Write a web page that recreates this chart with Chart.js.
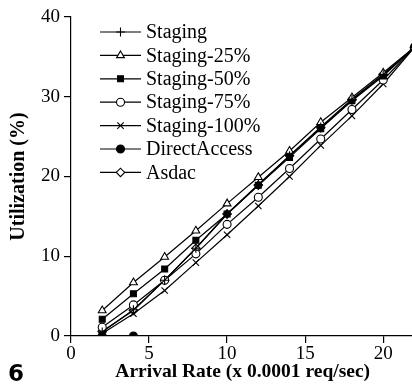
<!DOCTYPE html>
<html>
<head>
<meta charset="utf-8">
<script src="https://cdn.jsdelivr.net/npm/chart.js@4/dist/chart.umd.min.js"></script>
<style>
    html, body { margin: 0; padding: 0; background: #fff; overflow: hidden; }
    #wrap { position: relative; width: 412px; height: 389px; overflow: hidden; }
    #chart { position: absolute; left: 0; top: 0; }
    #figno { position: absolute; left: 8px; top: 360px; font: bold 23px "DejaVu Sans", sans-serif; color: #000; }
</style>
</head>
<body>
<div id="wrap">
    <canvas id="chart" width="420" height="389"></canvas>
    <div id="figno">6</div>
</div>
<script>
    // arrival rate (x 0.0001 req/sec)
    const rates = [2, 4, 6, 8, 10, 12, 14, 16, 18, 20, 22];

    // utilization (%) per scheme
    const staging    = [0.5, 3.3, 7.0, 11.0, 15.3, 19.0, 22.6, 26.2, 29.7, 32.8, 36.2];
    const staging25  = [3.2, 6.7, 9.9, 13.2, 16.6, 19.9, 23.2, 26.8, 29.9, 33.0, 36.2];
    const staging50  = [2.1, 5.3, 8.4, 12.0, 15.3, 18.9, 22.4, 26.0, 29.5, 32.6, 36.2];
    const staging75  = [1.1, 3.9, 7.0, 10.3, 14.0, 17.4, 21.0, 24.7, 28.4, 32.1, 36.2];
    const staging100 = [0.3, 2.8, 5.7, 9.2, 12.7, 16.3, 20.0, 23.9, 27.6, 31.6, 36.2];
    const directRates = [2, 4];
    const directAccess = [0, 0];
    const asdac      = [0.6, 3.2, 7.0, 11.0, 15.3, 18.9, 22.6, 26.1, 29.6, 32.8, 36.2];

    const xTicks = [0, 5, 10, 15, 20];
    const yTicks = [0, 10, 20, 30, 40];

    const serif = '"Liberation Serif", "Times New Roman", serif';

    function pts(xs, ys) {
        return ys.map((y, i) => ({ x: xs[i], y: y }));
    }

    function series(label, xs, ys, style, fill, radius) {
        return {
            label: label,
            data: pts(xs, ys),
            borderColor: '#000',
            borderWidth: 1.2,
            pointStyle: style,
            pointBackgroundColor: fill,
            pointBorderColor: '#000',
            pointBorderWidth: 1.1,
            pointRadius: radius,
            pointHoverRadius: radius,
            tension: 0,
            fill: false,
        };
    }

    const datasets = [
        series('Staging', rates, staging, 'cross', '#000', 4.5),
        series('Staging-25%', rates, staging25, 'triangle', '#fff', 4.5),
        series('Staging-50%', rates, staging50, 'rect', '#000', 4.2),
        series('Staging-75%', rates, staging75, 'circle', '#fff', 4),
        series('Staging-100%', rates, staging100, 'crossRot', '#000', 4.5),
        series('DirectAccess', directRates, directAccess, 'circle', '#000', 4),
        series('Asdac', rates, asdac, 'rectRot', '#fff', 4.2),
    ];

    // legend: short line with the marker sitting in the middle
    const lineLegend = {
        id: 'lineLegend',
        afterDraw(chart) {
            const ctx = chart.ctx;
            const x0 = 100, x1 = 141, tx = 146;
            ctx.save();
            chart.data.datasets.forEach((ds, i) => {
                const y = 32 + i * 23.4;
                ctx.strokeStyle = '#000';
                ctx.lineWidth = 1.2;
                ctx.beginPath();
                ctx.moveTo(x0, y);
                ctx.lineTo(x1, y);
                ctx.stroke();
                ctx.fillStyle = ds.pointBackgroundColor;
                ctx.strokeStyle = '#000';
                ctx.lineWidth = ds.pointBorderWidth;
                Chart.helpers.drawPoint(ctx, {
                    pointStyle: ds.pointStyle,
                    radius: ds.pointRadius,
                    rotation: 0,
                    borderWidth: ds.pointBorderWidth,
                }, (x0 + x1) / 2, y);
                ctx.fillStyle = '#000';
                ctx.font = '20px ' + serif;
                ctx.textBaseline = 'middle';
                ctx.textAlign = 'left';
                ctx.fillText(ds.label, tx, y + 1);
            });
            ctx.restore();
        },
    };

    new Chart(document.getElementById('chart'), {
        type: 'line',
        data: { datasets: datasets },
        plugins: [lineLegend],
        options: {
            responsive: false,
            animation: false,
            events: [],
            layout: { padding: { top: 17, right: 2, left: 0, bottom: 0 } },
            plugins: { legend: { display: false }, tooltip: { enabled: false } },
            scales: {
                x: {
                    type: 'linear',
                    min: 0,
                    max: 22,
                    afterBuildTicks: (s) => { s.ticks = xTicks.map((v) => ({ value: v })); },
                    afterFit: (s) => { s.height = 53; },
                    border: { display: true, color: '#000', width: 1.2 },
                    grid: { drawOnChartArea: false, drawTicks: true, tickLength: 7, color: '#000', lineWidth: 1.2 },
                    ticks: { color: '#000', font: { family: serif, size: 19 }, padding: 0, maxRotation: 0 },
                    title: {
                        display: true,
                        text: 'Arrival Rate (x 0.0001 req/sec)',
                        color: '#000',
                        font: { family: serif, size: 19.5, weight: 'bold' },
                        padding: { top: 2, bottom: 5 },
                    },
                },
                y: {
                    min: 0,
                    max: 40,
                    afterBuildTicks: (s) => { s.ticks = yTicks.map((v) => ({ value: v })); },
                    afterFit: (s) => { s.width = 71; },
                    border: { display: true, color: '#000', width: 1.2 },
                    grid: { drawOnChartArea: false, drawTicks: true, tickLength: 7, color: '#000', lineWidth: 1.2 },
                    ticks: { color: '#000', font: { family: serif, size: 19 }, padding: 4 },
                    title: {
                        display: true,
                        text: 'Utilization (%)',
                        color: '#000',
                        font: { family: serif, size: 20, weight: 'bold' },
                        padding: { top: 7, bottom: 0 },
                    },
                },
            },
        },
    });
</script>
</body>
</html>
